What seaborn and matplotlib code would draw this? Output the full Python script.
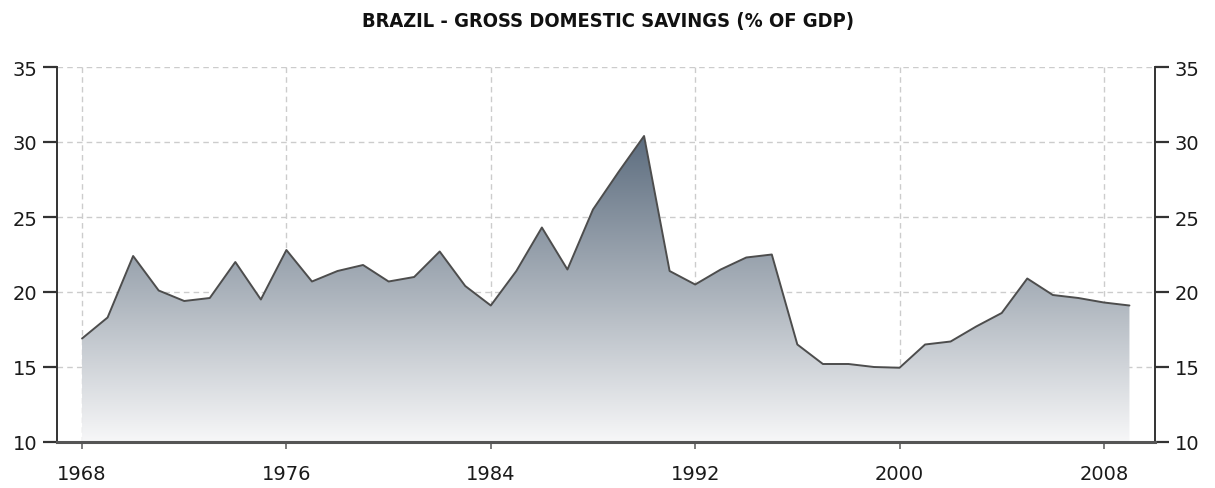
import numpy as np
import pandas as pd
import matplotlib
matplotlib.use("Agg")
import matplotlib.pyplot as plt
import seaborn as sns
from matplotlib.colors import LinearSegmentedColormap

years = list(range(1968, 2010))
savings = [16.9, 18.3, 22.4, 20.1, 19.4, 19.6, 22.0, 19.5, 22.8, 20.7,
           21.4, 21.8, 20.7, 21.0, 22.7, 20.4, 19.1, 21.4, 24.3, 21.5,
           25.5, 28.0, 30.4, 21.4, 20.5, 21.5, 22.3, 22.5, 16.5, 15.2,
           15.2, 15.0, 14.95, 16.5, 16.7, 17.7, 18.6, 20.9, 19.8, 19.6,
           19.3, 19.1]
xticks = [1968, 1976, 1984, 1992, 2000, 2008]
yticks = [10, 15, 20, 25, 30, 35]
title = "BRAZIL - GROSS DOMESTIC SAVINGS (% OF GDP)"

df = pd.DataFrame({"year": years, "value": savings})

sns.set_style("white")
plt.rcParams["font.family"] = ["DejaVu Sans"]

fig = plt.figure(figsize=(12.15, 4.89), dpi=100)
ax = fig.add_axes([57/1215, 1-443/489, (1155-57)/1215, (443-68)/489])

ymin, ymax = 10, 35
ax.set_xlim(1967.02, 2010.0)
ax.set_ylim(ymin, ymax)

# gradient fill under the line
poly = ax.fill_between(df["year"], df["value"], ymin, facecolor="none", edgecolor="none")
cmap = LinearSegmentedColormap.from_list("g", ["#f7f7f8", "#a9b1ba", "#5d6d7f"])
grad = np.linspace(0, 1, 256).reshape(-1, 1)
top = max(savings)
im = ax.imshow(grad, cmap=cmap, origin="lower", aspect="auto",
               extent=[years[0], years[-1], ymin, top], zorder=1)
im.set_clip_path(poly.get_paths()[0], transform=ax.transData)

sns.lineplot(data=df, x="year", y="value", ax=ax, color="#4d4d4d", linewidth=1.4, zorder=3)

ax.set_xlim(1967.02, 2010.0)
ax.set_ylim(ymin, ymax)
ax.set_xticks(xticks)
ax.set_yticks(yticks)
ax.set_xlabel("")
ax.set_ylabel("")

ax.grid(True, color="#cccccc", linestyle=(0, (4, 3)), linewidth=1.0, zorder=0)
ax.set_axisbelow(True)

ax.spines["top"].set_visible(False)
ax.spines["left"].set_color("#333333")
ax.spines["left"].set_linewidth(1.4)
ax.spines["right"].set_visible(True)
ax.spines["right"].set_color("#333333")
ax.spines["right"].set_linewidth(1.4)
ax.spines["bottom"].set_color("#555555")
ax.spines["bottom"].set_linewidth(2.2)

ax.tick_params(axis="y", which="both", left=True, right=True, labelleft=True, labelright=True,
               direction="out", length=10, width=1.6, color="#333333", pad=4,
               labelsize=14, labelcolor="#1a1a1a")
ax.tick_params(axis="x", bottom=True, direction="out", length=5, width=1.2, color="#666666",
               pad=11, labelsize=14, labelcolor="#1a1a1a")

fig.text(0.5, 1-22/489, title, ha="center", va="center", fontsize=14.4, fontweight="bold",
         fontstretch="condensed", color="#111111")

fig.savefig("out.png", dpi=100)
